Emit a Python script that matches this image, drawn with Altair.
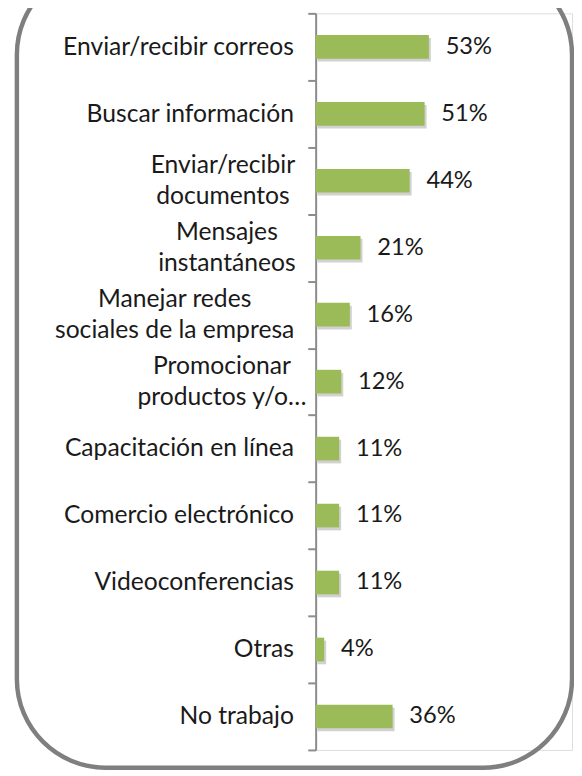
import altair as alt
import pandas as pd

categories = [
    "Enviar/recibir correos",
    "Buscar información",
    "Enviar/recibir|documentos",
    "Mensajes|instantáneos",
    "Manejar redes|sociales de la empresa",
    "Promocionar|productos y/o…",
    "Capacitación en línea",
    "Comercio electrónico",
    "Videoconferencias",
    "Otras",
    "No trabajo",
]
values = [53, 51, 44, 21, 16, 12, 11, 11, 11, 4, 36]

df = pd.DataFrame({"cat": categories, "val": values})
frame_df = pd.DataFrame({"k": [0]})

FONT = "Lato"
TEXT = "#1a1a1a"

# horizontal centre of each two-line label block, in px left of the axis
block_centre = {
    "Enviar/recibir|documentos": -94,
    "Mensajes|instantáneos": -90,
    "Manejar redes|sociales de la empresa": -143,
    "Promocionar|productos y/o…": -95,
}

y_axis = alt.Axis(
    title=None,
    labels=False,
    tickBand="extent",
    tickSize=8,
    tickColor="#8c8c8c",
    tickWidth=2,
    domainColor="#8c8c8c",
    domainWidth=2,
    grid=False,
)
y_enc = alt.Y("cat:N", sort=categories, scale=alt.Scale(paddingInner=0, paddingOuter=0), axis=y_axis)
x_scale = alt.Scale(domain=[0, 120])
x_enc = alt.X("val:Q", scale=x_scale, axis=None)

base = alt.Chart(df)

shadow = base.mark_bar(size=24, color="#9a9a9a", opacity=0.45, xOffset=2, yOffset=3).encode(
    x=x_enc, y=y_enc
)
bars = base.mark_bar(size=24, color="#9BBB59").encode(x=x_enc, y=y_enc)
values_txt = base.transform_calculate(txt="datum.val + '%'").mark_text(
    align="left", baseline="middle", dx=17, font=FONT, fontSize=24, color=TEXT
).encode(x=x_enc, y=y_enc, text="txt:N")

cat_single = base.transform_filter("indexof(datum.cat, '|') < 0").mark_text(
    align="right", baseline="middle", dx=-22, font=FONT, fontSize=25, color=TEXT
).encode(x=alt.datum(0, scale=x_scale), y=y_enc, text="cat:N")

double_layers = []
for cat, cx in block_centre.items():
    double_layers.append(
        base.transform_filter(alt.datum.cat == cat).mark_text(
            align="center", baseline="middle", dx=cx, dy=-16, font=FONT, fontSize=25,
            color=TEXT, lineBreak="|", lineHeight=32,
        ).encode(x=alt.datum(0, scale=x_scale), y=y_enc, text="cat:N")
    )

frame = alt.Chart(frame_df).mark_rect(
    fillOpacity=0, stroke="#7f7f7f", strokeWidth=4.5, cornerRadius=90
).encode(x=alt.value(-303), x2=alt.value(260), y=alt.value(-48), y2=alt.value(765))

chart = alt.layer(frame, shadow, bars, values_txt, cat_single, *double_layers).properties(
    width=260,
    height=747,
    autosize=alt.AutoSizeParams(type="none"),
    padding={"left": 312, "top": 0, "right": 2, "bottom": 21},
).configure_view(strokeWidth=0, stroke="transparent").configure(background="white")

chart.save("out.html", embed_options={"renderer": "svg", "actions": False})
